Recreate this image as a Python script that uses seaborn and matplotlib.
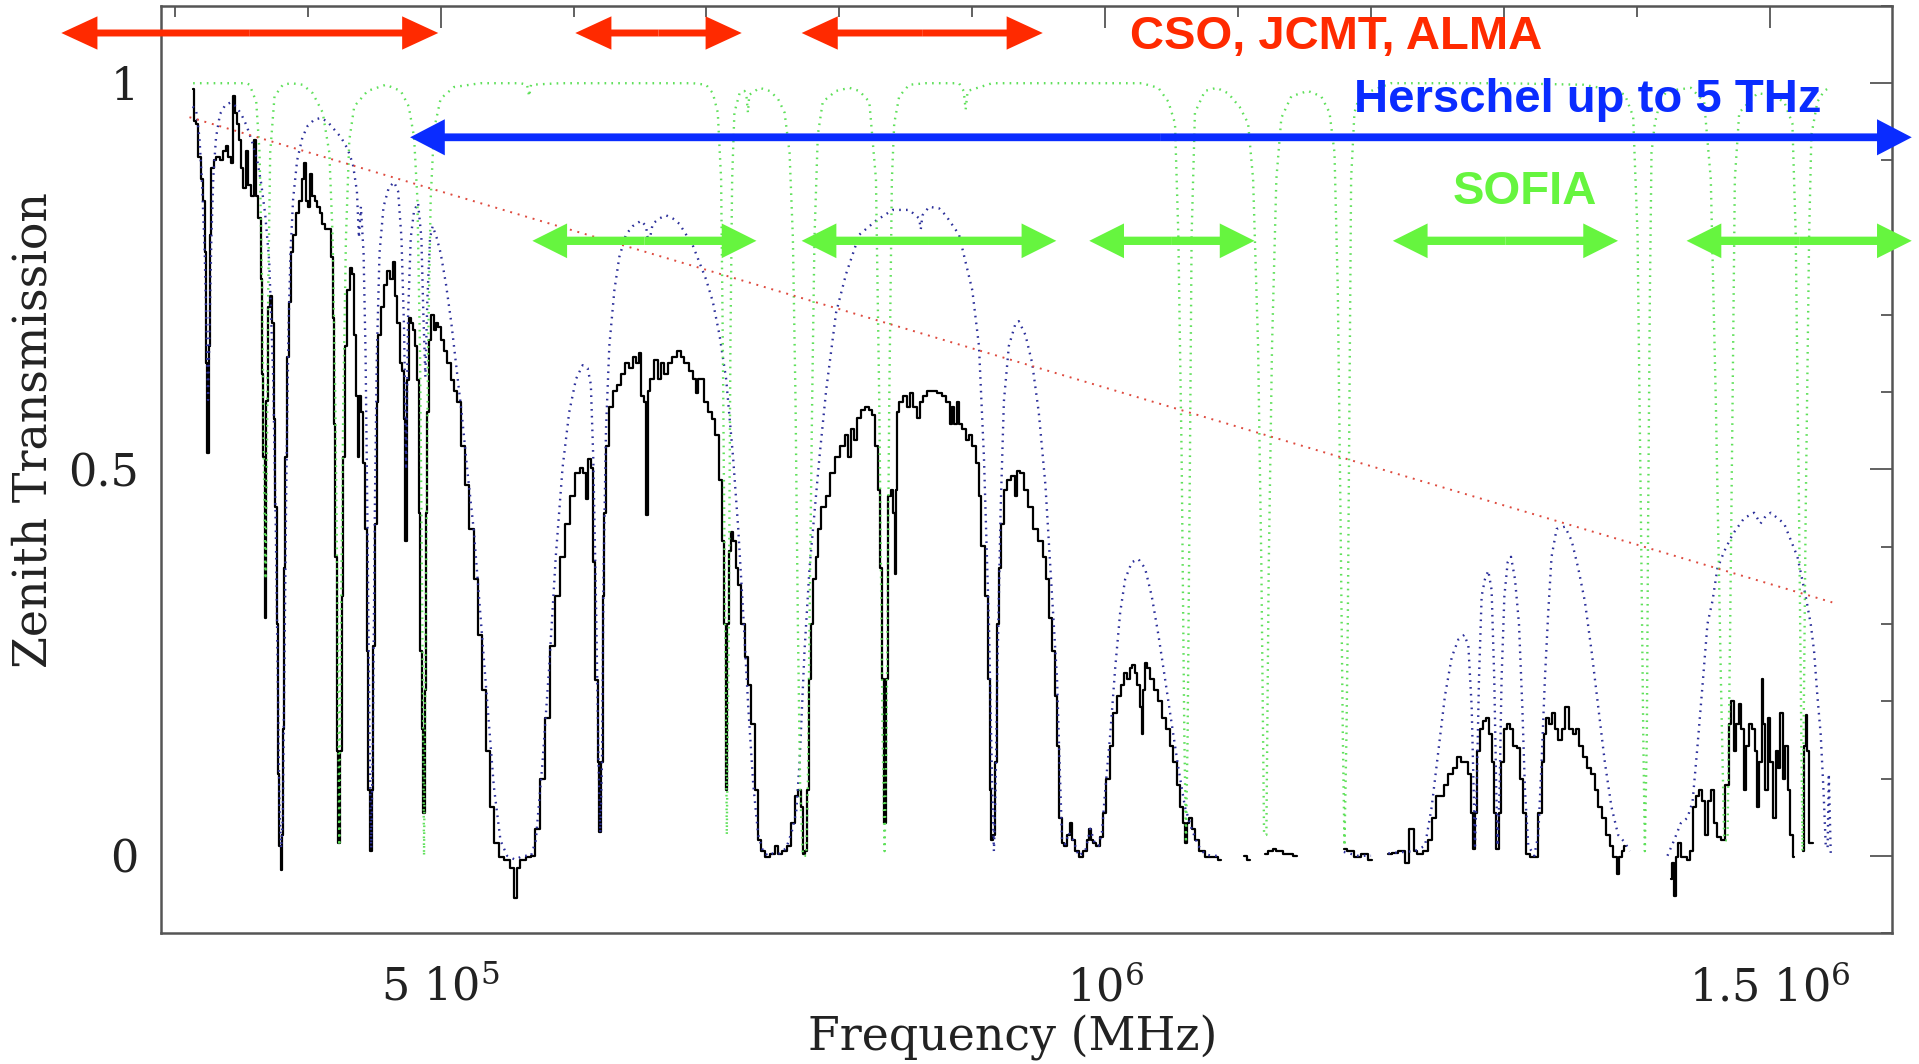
import numpy as np
import pandas as pd
import matplotlib
matplotlib.use("Agg")
import matplotlib.pyplot as plt
from matplotlib.patches import FancyArrowPatch
from matplotlib.ticker import MultipleLocator, FixedLocator
import seaborn as sns

# ---------------- data (frequency in GHz, zenith transmission) ----------------
black_seg1 = [
    (313.75, 0.992), (314.75, 0.951), (316.75, 0.947), (318.75, 0.904), (320.75, 0.876), (322, 0.847),
    (323, 0.782), (324, 0.638), (325, 0.521), (325.75, 0.66), (326.75, 0.804), (328.25, 0.89), (330, 0.90),
    (332.5, 0.904), (335, 0.90), (337.5, 0.912), (339.5, 0.919), (341.25, 0.904), (343, 0.897), (344.25, 0.983),
    (345.75, 0.962), (347.5, 0.947), (348.75, 0.926), (350.75, 0.89), (352.5, 0.865), (354.25, 0.912),
    (355.75, 0.868), (358.25, 0.854), (360.25, 0.926), (361.75, 0.854), (363.75, 0.825), (365.25, 0.746),
    (366, 0.624), (367, 0.516), (368, 0.308), (369.25, 0.589), (370.5, 0.71), (372, 0.725), (373.75, 0.689),
    (375, 0.566), (376.25, 0.451), (377.5, 0.30), (378.25, 0.106), (379.25, 0.013), (380, -0.019),
    (380.75, 0.027), (381.75, 0.164), (382.75, 0.372), (383.75, 0.516), (385, 0.646), (386.75, 0.717),
    (388.25, 0.782), (390, 0.804), (392.5, 0.832), (395, 0.847), (397, 0.876), (398, 0.897), (399.25, 0.847),
    (401.25, 0.84), (402.75, 0.883), (404.25, 0.854), (406.25, 0.847), (408.25, 0.84), (410, 0.832),
    (411.75, 0.818), (413.75, 0.811), (416.25, 0.811), (418.25, 0.775), (419.25, 0.696), (420.25, 0.559),
    (421.25, 0.387), (422.5, 0.135), (423.75, 0.017), (425, 0.135), (426.25, 0.336), (427.5, 0.516),
    (428.75, 0.66), (430.75, 0.732), (432.5, 0.761), (434.25, 0.753), (435.75, 0.674), (437.25, 0.595),
    (438.25, 0.516), (439.5, 0.595), (441.25, 0.574), (442.5, 0.509), (443.75, 0.423), (445, 0.265),
    (446.25, 0.085), (447.75, 0.006), (448.75, 0.085), (450, 0.272), (451.25, 0.43), (452.5, 0.588),
    (453.75, 0.674), (455.75, 0.71), (458.25, 0.739), (460.75, 0.757), (462.75, 0.746), (465, 0.768),
    (466.75, 0.725), (468.25, 0.689), (470, 0.638), (471.75, 0.627), (473, 0.566), (474, 0.408), (475, 0.616),
    (476.75, 0.696), (478.75, 0.689), (480.25, 0.681), (481.75, 0.66), (483.25, 0.616), (484.25, 0.444),
    (485.25, 0.265), (486.25, 0.164), (487.5, 0.056), (488.75, 0.214), (489.5, 0.444), (490.5, 0.574),
    (491.75, 0.667), (493.75, 0.70), (495.75, 0.681), (497.5, 0.689), (499.25, 0.685), (501.25, 0.667),
    (503.75, 0.653), (506.25, 0.638), (508.75, 0.616), (511.25, 0.602), (513.75, 0.588), (516.8, 0.531),
    (520, 0.48), (523.3, 0.423), (526.4, 0.358), (529.4, 0.286), (532.7, 0.214), (535.9, 0.135),
    (538.9, 0.063), (541.9, 0.017), (545.2, -0.001), (550.3, -0.005), (554, -0.016), (556.5, -0.055),
    (558.5, -0.016), (561.6, -0.005), (566.6, -0.001), (569.6, 0.0), (572.9, 0.035), (576.6, 0.099),
    (580.4, 0.178), (584.2, 0.272), (587.9, 0.336), (591.7, 0.387), (595.5, 0.43), (599.2, 0.466),
    (603, 0.495), (606.3, 0.502), (608, 0.495), (610, 0.462), (611.8, 0.513), (613.8, 0.502), (615.6, 0.38),
    (617.3, 0.228), (618.8, 0.121), (620.1, 0.031), (621.4, 0.121), (622.4, 0.336), (623.9, 0.444),
    (625.6, 0.531), (628.1, 0.581), (631.4, 0.602), (634.4, 0.61), (636.9, 0.624), (640.7, 0.638),
    (643.2, 0.631), (645.7, 0.646), (648.2, 0.638), (649.7, 0.651), (652, 0.595), (654, 0.588), (655.3, 0.441),
    (656.5, 0.602), (659, 0.617), (662, 0.642), (664.6, 0.617), (667.1, 0.638), (669.6, 0.624), (672.1, 0.638),
    (675.9, 0.646), (679.6, 0.653), (681.7, 0.646), (684.7, 0.638), (688.4, 0.627), (690.9, 0.617),
    (692.7, 0.599), (694.7, 0.617), (697.2, 0.617), (699.7, 0.588), (702.3, 0.574), (705.3, 0.566),
    (707.8, 0.545), (710.3, 0.487), (712.8, 0.408), (714.3, 0.30), (715.3, 0.085), (716.3, 0.30),
    (717.3, 0.394), (719.3, 0.419), (721, 0.408), (722.9, 0.372), (724.9, 0.351), (727.4, 0.30),
    (729.9, 0.257), (732.4, 0.221), (734.9, 0.171), (737.4, 0.085), (739.9, 0.02), (742.5, 0.006),
    (746.3, -0.001), (750, 0.002), (752.5, 0.013), (755, 0.002), (758.8, 0.006), (762.5, 0.013), (765, 0.042),
    (768, 0.078), (770, 0.085), (771.5, 0.063), (773, 0.002), (774.5, 0.006), (776.3, 0.085), (777.5, 0.229),
    (779.5, 0.30), (781.3, 0.358), (783, 0.387), (785, 0.423), (788, 0.451), (791.3, 0.466), (794.5, 0.495),
    (798.8, 0.516), (802.5, 0.531), (805.5, 0.545), (807.5, 0.516), (809.5, 0.552), (812.5, 0.538),
    (814.5, 0.567), (817.5, 0.577), (820.5, 0.581), (823.3, 0.577), (826.3, 0.57), (828, 0.531), (830, 0.473),
    (831.3, 0.372), (832.5, 0.229), (834, 0.042), (835.5, 0.229), (837.5, 0.466), (839.5, 0.473),
    (841, 0.444), (842, 0.365), (843, 0.473), (843.8, 0.574), (846.3, 0.588), (850, 0.595), (852, 0.581),
    (853.8, 0.599), (857.5, 0.581), (860, 0.567), (862, 0.588), (864.3, 0.595), (867.5, 0.602),
    (871.3, 0.602), (875, 0.599), (878.8, 0.595), (882, 0.588), (883.8, 0.559), (885.5, 0.581), (887, 0.559),
    (889.3, 0.588), (891.3, 0.559), (893.8, 0.552), (896.3, 0.538), (898.8, 0.545), (901.3, 0.531),
    (903.8, 0.509), (905.8, 0.466), (908, 0.401), (910.5, 0.336), (912.5, 0.229), (913.8, 0.085), (915, 0.02),
    (916.8, 0.027), (918, 0.121), (919.5, 0.30), (920.5, 0.372), (922.5, 0.43), (925, 0.473), (927.5, 0.487),
    (930.5, 0.491), (933, 0.466), (934.5, 0.498), (937.5, 0.495), (940.5, 0.473), (943.8, 0.451),
    (947.5, 0.423), (951.3, 0.408), (954.5, 0.387), (956.5, 0.358), (958.8, 0.308), (961.3, 0.265),
    (963, 0.207), (964.5, 0.142), (966.3, 0.049), (968, 0.017), (970.5, 0.013), (972.5, 0.027),
    (974.3, 0.042), (976.3, 0.02), (978.8, 0.006), (982, -0.001), (985, 0.006), (987, 0.02), (988.8, 0.035),
    (990, 0.02), (992, 0.017), (994.5, 0.013), (997, 0.024), (999.5, 0.056), (1002, 0.099), (1004.5, 0.142),
    (1007.5, 0.185), (1010, 0.207), (1013, 0.221), (1015, 0.236), (1017.5, 0.229), (1019.5, 0.243),
    (1021.3, 0.247), (1023, 0.236), (1025, 0.221), (1027, 0.193), (1028, 0.157), (1029, 0.214),
    (1030.5, 0.25), (1032.5, 0.243), (1035, 0.229), (1038, 0.214), (1041.3, 0.20), (1044.5, 0.178),
    (1047.5, 0.164), (1050, 0.142), (1052.5, 0.121), (1055, 0.092), (1057.5, 0.063), (1059.5, 0.042),
    (1060.8, 0.017), (1062, 0.042), (1063.8, 0.049), (1066.3, 0.035), (1068.8, 0.02), (1072.5, 0.006),
    (1077.5, -0.001), (1082.5, -0.001), (1087, -0.005),
]
black_seg2 = [(1104.5, 0.0), (1108.8, -0.005)]
black_seg3 = [(1120, 0.002), (1125, 0.006), (1127.5, 0.009), (1130, 0.006), (1137.5, 0.002), (1144.5, 0.0)]
black_seg4 = [(1179.5, 0.009), (1183.8, 0.006), (1190, -0.001), (1195, 0.002), (1200.5, -0.005)]
black_seg5 = [
    (1213, 0.002), (1218, 0.004), (1223, 0.006), (1227.6, -0.009), (1229.3, 0.035), (1231, 0.035),
    (1233, 0.006), (1236.8, 0.002), (1241.9, 0.006), (1244.4, 0.02), (1247.6, 0.049), (1250.6, 0.078),
    (1253.6, 0.078), (1256.1, 0.092), (1259.4, 0.106), (1263.2, 0.114), (1266.2, 0.128), (1269.4, 0.121),
    (1271.9, 0.121), (1273.9, 0.106), (1276.2, 0.056), (1277.7, 0.009), (1279.2, 0.056), (1280.7, 0.135),
    (1282.7, 0.164), (1285.2, 0.175), (1287.7, 0.178), (1290.2, 0.157), (1292, 0.121), (1293.2, 0.056),
    (1295.2, 0.009), (1297, 0.056), (1298.7, 0.121), (1300.8, 0.164), (1303.3, 0.171), (1305.8, 0.164),
    (1308.3, 0.142), (1311.3, 0.139), (1313.3, 0.099), (1315.3, 0.056), (1317.8, 0.002), (1320.8, -0.001),
    (1324.6, -0.001), (1327.1, 0.056), (1329.6, 0.121), (1330.8, 0.157), (1332.8, 0.178), (1334.6, 0.171),
    (1337.1, 0.185), (1339.6, 0.164), (1342.1, 0.15), (1344.6, 0.164), (1347.9, 0.193), (1350.4, 0.164),
    (1352.9, 0.157), (1355.4, 0.164), (1357.9, 0.142), (1360.9, 0.128), (1363.9, 0.114), (1367.2, 0.106),
    (1369.7, 0.085), (1372.2, 0.063), (1375.4, 0.049), (1378.4, 0.027), (1380.9, 0.013), (1383.9, -0.001),
    (1385.5, -0.023), (1387.2, -0.001), (1389.7, 0.006), (1391, 0.013),
]
black_seg6 = [
    (1425.6, -0.03), (1426.8, -0.009), (1428.6, -0.052), (1430, -0.001), (1431.8, 0.017), (1434.3, -0.001),
    (1436.8, -0.001), (1439.3, -0.005), (1441.1, 0.006), (1443.1, 0.063), (1445.6, 0.078), (1447.6, 0.085),
    (1450.1, 0.071), (1452.6, 0.027), (1454.4, 0.071), (1456.9, 0.085), (1459.4, 0.042), (1461.9, 0.024),
    (1465, 0.02), (1468.2, 0.092), (1470.2, 0.171), (1472, 0.2), (1473.7, 0.135), (1475.7, 0.171),
    (1477.7, 0.196), (1479.4, 0.164), (1481.2, 0.085), (1483.2, 0.142), (1485.7, 0.171), (1487.7, 0.164),
    (1489.5, 0.135), (1491.2, 0.063), (1493.2, 0.121), (1494.7, 0.229), (1495.7, 0.171), (1497.7, 0.085),
    (1499.5, 0.178), (1501.3, 0.121), (1503.3, 0.049), (1505.3, 0.135), (1507, 0.114), (1508.8, 0.185),
    (1510.8, 0.099), (1512.8, 0.142), (1514.5, 0.085), (1516.3, 0.027), (1518.3, -0.001),
]
black_seg7 = [(1524.8, 0.006), (1526.3, 0.142), (1527.8, 0.182), (1528.8, 0.135), (1530.3, 0.017), (1532.3, 0.017)]

blue_seg1 = [
    (313.5, 0.97), (316, 0.965), (318.5, 0.93), (320.5, 0.87), (322.5, 0.78), (324, 0.67), (325, 0.59),
    (326, 0.67), (327.5, 0.80), (329, 0.88), (331, 0.93), (334, 0.96), (338, 0.972), (342, 0.975), (346, 0.97),
    (350, 0.96), (354, 0.945), (358, 0.925), (362, 0.90), (365, 0.87), (368, 0.83), (371, 0.77), (374, 0.62),
    (376, 0.42), (377.5, 0.22), (378.75, 0.06), (380, 0.01), (381.25, 0.05), (382.5, 0.25), (384, 0.5),
    (385.5, 0.68), (387, 0.78), (389, 0.85), (392, 0.90), (396, 0.93), (400, 0.945), (405, 0.953),
    (410, 0.955), (415, 0.95), (420, 0.94), (425, 0.93), (430, 0.915), (434, 0.895), (437, 0.86),
    (438.5, 0.80), (440, 0.84), (442, 0.78), (443.5, 0.65), (445, 0.42), (446.5, 0.15), (447.75, 0.01),
    (449, 0.15), (450.5, 0.45), (452, 0.65), (454, 0.78), (457, 0.84), (461, 0.865), (465, 0.872),
    (468, 0.86), (470.5, 0.80), (472.5, 0.68), (474, 0.50), (475.5, 0.70), (477.5, 0.80), (480, 0.835),
    (483, 0.845), (485.5, 0.80), (487, 0.70), (488.5, 0.62), (490, 0.72), (492, 0.80), (494, 0.815),
    (497, 0.80), (500, 0.78), (504, 0.74), (508, 0.69), (512, 0.63), (516, 0.57), (520, 0.50), (525, 0.42),
    (530, 0.31), (535, 0.20), (540, 0.09), (545, 0.02), (550, 0.0), (556, -0.005), (562, 0.0), (568, 0.0),
    (571.6, 0.02), (576.6, 0.12), (581.6, 0.243), (586.6, 0.387), (591.7, 0.502), (596.7, 0.574),
    (601.8, 0.617), (606.8, 0.635), (610.6, 0.631), (613, 0.61), (614.8, 0.516), (616.8, 0.336),
    (618.8, 0.121), (620.1, 0.03), (621.4, 0.121), (622.6, 0.372), (624.4, 0.552), (626.9, 0.66),
    (630.7, 0.732), (634.4, 0.775), (639.4, 0.804), (644.5, 0.815), (650.8, 0.822), (654.5, 0.815),
    (656.5, 0.79), (659.5, 0.818), (664.6, 0.825), (669.6, 0.829), (674.6, 0.825), (679.6, 0.818),
    (684.7, 0.804), (689.7, 0.79), (694.7, 0.768), (699.7, 0.746), (704.8, 0.717), (709.8, 0.674),
    (714.8, 0.617), (720, 0.516), (723.9, 0.423), (727.6, 0.315), (731.4, 0.193), (735.2, 0.092),
    (738.9, 0.027), (742.5, 0.006), (746.3, 0.0), (750, 0.003), (755, 0.003), (760, 0.01), (764, 0.03),
    (767.5, 0.056), (770, 0.12), (773.75, 0.265), (777.5, 0.372), (781.25, 0.444), (785, 0.516), (790, 0.602),
    (797.5, 0.703), (805, 0.753), (815, 0.804), (827.5, 0.822), (840, 0.836), (852.5, 0.836), (860, 0.825),
    (861.25, 0.811), (862.5, 0.829), (867.5, 0.84), (875, 0.838), (880, 0.829), (890, 0.804), (900, 0.732),
    (905, 0.66), (908.75, 0.516), (912.5, 0.30), (915, 0.085), (916.25, 0.006), (917.5, 0.085),
    (918.75, 0.229), (921.25, 0.444), (923.75, 0.588), (927.5, 0.66), (932.5, 0.689), (935, 0.692),
    (940, 0.674), (945, 0.638), (950, 0.574), (955, 0.48), (960, 0.336), (963.75, 0.229), (965, 0.157),
    (967.5, 0.02), (970, 0.015), (972.5, 0.03), (976, 0.02), (980, 0.0), (985, 0.006), (988.8, 0.035),
    (992, 0.017), (995, 0.013), (997.5, 0.03), (1000, 0.085), (1003.75, 0.157), (1007.5, 0.243),
    (1011.25, 0.315), (1015, 0.358), (1020, 0.38), (1025, 0.384), (1030, 0.372), (1035, 0.336),
    (1040, 0.286), (1045, 0.229), (1050, 0.171), (1055, 0.114), (1060, 0.063), (1065, 0.035), (1070, 0.013),
    (1075, 0.002), (1080, 0.0), (1087, 0.0),
]
blue_seg2 = [(1179.5, 0.005), (1190, 0.0), (1200, 0.0)]
blue_seg3 = [
    (1213, 0.003), (1225, 0.005), (1233, 0.006), (1240.6, 0.013), (1245.6, 0.063), (1250.6, 0.135),
    (1255.6, 0.207), (1260.7, 0.257), (1265.7, 0.28), (1270.2, 0.286), (1273.2, 0.272), (1275.7, 0.193),
    (1277.2, 0.085), (1278.2, 0.013), (1279.5, 0.085), (1281.2, 0.229), (1283.2, 0.336), (1285.7, 0.358),
    (1288.2, 0.369), (1290.7, 0.344), (1292.7, 0.229), (1294.2, 0.085), (1295.2, 0.013), (1296.7, 0.085),
    (1298.2, 0.229), (1300.3, 0.336), (1302.8, 0.38), (1305.3, 0.387), (1308.3, 0.358), (1311.3, 0.30),
    (1313.8, 0.193), (1315.8, 0.085), (1318.3, 0.013), (1322.8, 0.0), (1325.8, 0.027), (1328.3, 0.121),
    (1330.8, 0.229), (1333.3, 0.315), (1335.8, 0.387), (1339.6, 0.423), (1345.9, 0.426), (1350.9, 0.408),
    (1355.9, 0.372), (1360.9, 0.329), (1365.9, 0.265), (1370.9, 0.193), (1375.9, 0.121), (1380.9, 0.063),
    (1385.9, 0.027), (1391, 0.017), (1394.7, 0.006),
]
blue_seg4 = [
    (1423, 0.0), (1428, 0.02), (1433, 0.042), (1438, 0.049), (1441.9, 0.07), (1445.6, 0.142), (1449.4, 0.221),
    (1453.1, 0.30), (1456.9, 0.33), (1460.6, 0.372), (1465.7, 0.394), (1472, 0.416), (1480.7, 0.437),
    (1488.2, 0.444), (1493, 0.43), (1497, 0.44), (1500.8, 0.444), (1510.8, 0.43), (1520.8, 0.387),
    (1527, 0.336), (1530.8, 0.30), (1533.3, 0.265), (1535.8, 0.207), (1538.3, 0.157), (1540.4, 0.085),
    (1542.1, 0.013), (1543.5, 0.01), (1544.4, 0.106), (1545.9, 0.0),
]

green_pts = [
    (313.75, 1.0), (330, 1.0), (345, 1.0), (354, 1.0), (356.25, 0.998), (361.25, 0.976), (363.75, 0.91),
    (365.75, 0.73), (367, 0.505), (368.25, 0.358), (369.25, 0.505), (370.25, 0.73), (371.75, 0.91),
    (375, 0.983), (381.25, 0.998), (387.5, 1.0), (396.25, 0.998), (403.75, 0.987), (411.25, 0.962),
    (416.25, 0.91), (418.75, 0.80), (420.75, 0.588), (422.5, 0.30), (423.75, 0.013), (425, 0.30),
    (426.75, 0.588), (428.75, 0.80), (431.25, 0.926), (435, 0.97), (445, 0.99), (458.75, 0.998), (470, 0.99),
    (476, 0.97), (480, 0.93), (482.5, 0.85), (484.5, 0.65), (486, 0.35), (487.5, 0.0), (489, 0.35),
    (490.5, 0.65), (492.5, 0.85), (495, 0.94), (500, 0.98), (510, 0.995), (530, 1.0), (560, 1.0),
    (565, 0.998), (566.6, 0.983), (568, 0.998), (590, 1.0), (640, 1.0), (689.7, 1.0), (699.7, 0.998),
    (704.8, 0.987), (708.5, 0.962), (711, 0.876), (712.3, 0.66), (714, 0.30), (715.3, 0.027), (716.8, 0.30),
    (718, 0.66), (719.3, 0.876), (721, 0.962), (724.9, 0.987), (728.6, 0.99), (730, 0.985), (731.2, 0.962),
    (732.2, 0.985), (740, 0.994), (747.5, 0.99), (753.75, 0.98), (758.75, 0.962), (762.5, 0.91), (765, 0.80),
    (767, 0.588), (768.75, 0.30), (770.5, 0.085), (772.5, 0.0), (775, 0.0), (776.25, 0.085), (777.5, 0.30),
    (779.5, 0.588), (781.25, 0.80), (783.75, 0.933), (787.5, 0.976), (797.5, 0.99), (807.5, 0.994),
    (815, 0.99), (822.5, 0.976), (827.5, 0.876), (830, 0.588), (832.5, 0.157), (834, 0.006), (835.5, 0.157),
    (837.5, 0.588), (839.5, 0.876), (841.25, 0.948), (845, 0.983), (852.5, 0.998), (865, 1.0), (890, 1.0),
    (893.5, 0.99), (895, 0.966), (896.5, 0.99), (915, 1.0), (965, 1.0), (997.5, 1.0), (1027.5, 1.0),
    (1040, 0.994), (1047.5, 0.976), (1052.5, 0.948), (1055, 0.804), (1057.5, 0.516), (1059.5, 0.157),
    (1060.75, 0.017), (1062, 0.157), (1063.75, 0.516), (1065, 0.804), (1067.5, 0.962), (1075, 0.99),
    (1083.75, 0.994), (1092.5, 0.987), (1101.25, 0.969), (1107.5, 0.948), (1111.25, 0.876), (1115, 0.66),
    (1117.5, 0.372), (1119.5, 0.027), (1121.25, 0.027), (1123, 0.372), (1125.5, 0.66), (1128.75, 0.876),
    (1132.5, 0.955), (1140, 0.983), (1152.5, 0.99), (1162.5, 0.983), (1168.75, 0.962), (1172.5, 0.91),
    (1175, 0.73), (1177, 0.444), (1178.75, 0.157), (1180, 0.013), (1181.5, 0.157), (1182.5, 0.30),
    (1183.75, 0.588), (1185, 0.876), (1187.5, 0.962), (1190, 0.976), (1200, 0.99), (1215, 1.0), (1300, 1.0),
    (1360, 0.998), (1385, 0.99), (1391, 0.985), (1397.2, 0.957), (1400.5, 0.804), (1403, 0.444),
    (1404.8, 0.157), (1406, 0.006), (1407.5, 0.157), (1408.5, 0.444), (1409.8, 0.73), (1411, 0.91),
    (1413.5, 0.948), (1418, 0.98), (1423, 0.99), (1440.6, 0.994), (1450.6, 0.976), (1455.6, 0.876),
    (1459.4, 0.588), (1463.2, 0.229), (1465.7, 0.02), (1468.2, 0.02), (1470.2, 0.30), (1472, 0.588),
    (1473.7, 0.876), (1477, 0.962), (1490.7, 0.987), (1500, 0.985), (1510.8, 0.976), (1517, 0.948),
    (1519.5, 0.804), (1522, 0.444), (1524.6, 0.006), (1527, 0.444), (1529.6, 0.804), (1531.3, 0.933),
    (1535.8, 0.976), (1540.9, 0.99), (1544.6, 0.994),
]

red_line_ghz = [311.0, 1547.0]
red_line_trans = [0.956, 0.328]

# annotation ranges (GHz)
cso_ranges = [(214.6, 498.2), (601.3, 726.5), (771.6, 953.0)]
herschel_range = (477.0, 1606.8)
sofia_ranges = [(569.0, 737.6), (771.6, 963.2), (988.0, 1112.3), (1216.4, 1385.8), (1437.4, 1606.8)]

xtick_values = [5e5, 1e6, 1.5e6]
xtick_labels = [r'$\mathregular{5\ 10^{5}}$', r'$\mathregular{10^{6}}$', r'$\mathregular{1.5\ 10^{6}}$']
ytick_values = [0, 0.5, 1]
ytick_labels = ['0', '0.5', '1']

# ---------------- style ----------------
sns.set_style("white")
plt.rcParams['font.family'] = ['DejaVu Serif']
plt.rcParams['mathtext.fontset'] = 'dejavuserif'
plt.rcParams['mathtext.default'] = 'regular'

BLACK = '#000000'
BLUE_DOT = '#2b2f9a'
GREEN_DOT = '#5fe05a'
RED_DOT = '#de4a3e'
RED_ARR = '#ff2a00'
BLUE_ARR = '#0a2cff'
GREEN_ARR = '#66f53f'

fig = plt.figure(figsize=(19.19, 10.64), dpi=100)
ax = fig.add_axes([0.0839, 0.1231, 0.9020, 0.8713])


def seg_df(pts):
    return pd.DataFrame({'freq': [p[0] * 1e3 for p in pts], 'trans': [p[1] for p in pts]})


for seg in [black_seg1, black_seg2, black_seg3, black_seg4, black_seg5, black_seg6, black_seg7]:
    sns.lineplot(data=seg_df(seg), x='freq', y='trans', ax=ax, color=BLACK, lw=1.6,
                 estimator=None, sort=False, drawstyle='steps-mid', legend=False)

for seg in [blue_seg1, blue_seg2, blue_seg3, blue_seg4]:
    sns.lineplot(data=seg_df(seg), x='freq', y='trans', ax=ax, color=BLUE_DOT, lw=1.7,
                 estimator=None, sort=False, linestyle=(0, (0.7, 2.2)), legend=False)

sns.lineplot(data=seg_df(green_pts), x='freq', y='trans', ax=ax, color=GREEN_DOT, lw=1.7,
             estimator=None, sort=False, linestyle=(0, (0.7, 2.2)), legend=False)

sns.lineplot(x=[v * 1e3 for v in red_line_ghz], y=red_line_trans, ax=ax, color=RED_DOT, lw=1.4,
             estimator=None, sort=False, linestyle=(0, (1.0, 3.0)), legend=False)

ax.set_xlim(289.6e3, 1591.9e3)
ax.set_ylim(-0.1, 1.1)

ax.xaxis.set_major_locator(FixedLocator(xtick_values))
ax.set_xticklabels(xtick_labels)
ax.xaxis.set_minor_locator(MultipleLocator(1e5))
ax.yaxis.set_major_locator(FixedLocator(ytick_values))
ax.set_yticklabels(ytick_labels)
ax.yaxis.set_minor_locator(MultipleLocator(0.1))

ax.tick_params(which='both', direction='in', top=True, right=True, color='#555555', width=1.3,
               labelcolor='#222222', labelsize=32)
ax.tick_params(which='major', length=16)
ax.tick_params(which='minor', length=8)
ax.tick_params(axis='x', which='major', pad=24)
ax.tick_params(axis='y', which='major', pad=16)
for s in ax.spines.values():
    s.set_color('#555555')
    s.set_linewidth(1.8)

ax.set_xlabel('Frequency (MHz)', fontsize=33, color='#222222')
ax.set_ylabel('Zenith Transmission', fontsize=33, color='#222222')
ax.xaxis.set_label_coords(0.492, -0.113)
ax.yaxis.set_label_coords(-0.0734, 0.542)
ax.xaxis.label.set_va('center')
ax.yaxis.label.set_va('center')


def double_arrow(x0, x1, y, color, hl, hw, tw):
    xm = 0.5 * (x0 + x1)
    for xe in (x0, x1):
        p = FancyArrowPatch((xm * 1e3, y), (xe * 1e3, y),
                            arrowstyle=f'simple,head_length={hl},head_width={hw},tail_width={tw}',
                            mutation_scale=1, color=color, lw=0, shrinkA=0, shrinkB=0,
                            transform=ax.transData, clip_on=False, zorder=5)
        ax.add_patch(p)


for a, b in cso_ranges:
    double_arrow(a, b, 1.065, RED_ARR, 26, 24, 5)
double_arrow(herschel_range[0], herschel_range[1], 0.930, BLUE_ARR, 25, 26, 5.6)
for a, b in sofia_ranges:
    double_arrow(a, b, 0.796, GREEN_ARR, 25, 25, 6)

bold = dict(family=['Liberation Sans', 'DejaVu Sans'], fontweight='bold', fontsize=34,
            ha='center', va='center', clip_on=False, zorder=6)
ax.text(1174e3, 1.06, 'CSO, JCMT, ALMA', color=RED_ARR, **bold)
ax.text(1363e3, 0.978, 'Herschel up to 5 THz', color=BLUE_ARR, **bold)
ax.text(1316e3, 0.859, 'SOFIA', color=GREEN_ARR, **bold)

fig.savefig('out.png', dpi=100)
